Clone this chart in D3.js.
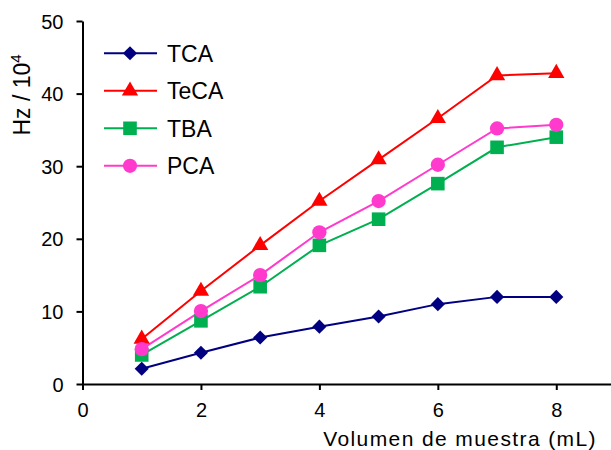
<!DOCTYPE html>
<html><head><meta charset="utf-8">
<script src="https://cdn.jsdelivr.net/npm/d3@7"></script>
<style>body{margin:0;background:#fff;} svg{display:block;font-family:"Liberation Sans",Arial,sans-serif;}</style>
</head><body>
<svg id="c" width="611" height="450"></svg>
<script>
const xValues = [1,2,3,4,5,6,7,8];
const seriesNames = ["TCA","TeCA","TBA","PCA"];
const TCA  = [2.1, 4.3, 6.4, 7.9, 9.3, 11.0, 12.0, 12.0];
const TeCA = [6.2, 12.8, 19.1, 25.2, 30.9, 36.6, 42.5, 42.8];
const TBA  = [4.0, 8.7, 13.4, 19.1, 22.7, 27.6, 32.6, 34.0];
const PCA  = [4.8, 10.05, 15.0, 20.9, 25.2, 30.2, 35.2, 35.7];
const xTicks = [0,2,4,6,8];
const yTicks = [0,10,20,30,40,50];
const colors = ["#000080","#FF0000","#00B050","#FF3ACC"];
const symbols = [d3.symbolSquare, d3.symbolTriangle, d3.symbolSquare, d3.symbolCircle];
const symRot = [45, 0, 0, 0];
const symSizes = [100, 115, 185, 160];
const seriesData = [TCA, TeCA, TBA, PCA];
const FONT = "Liberation Sans, Arial, sans-serif";

const svg = d3.select("#c");
const x = d3.scaleLinear().domain([0,9]).range([82.5,615.5]);
const y = d3.scaleLinear().domain([0,50]).range([384,21]);

// axes
const xAxis = svg.append("g").attr("transform","translate(0,384)")
  .call(d3.axisBottom(x).tickValues(xTicks).tickSize(6).tickSizeOuter(0).tickPadding(6));
const yAxis = svg.append("g").attr("transform","translate(82.5,0)")
  .call(d3.axisLeft(y).tickValues(yTicks).tickSize(6).tickSizeOuter(0).tickPadding(13));
[xAxis,yAxis].forEach(g=>{
  g.select(".domain").attr("stroke","#000").attr("stroke-width",2);
  g.selectAll(".tick line").attr("stroke","#000").attr("stroke-width",2);
  g.selectAll(".tick text").attr("fill","#000").style("font-size","20px").style("font-family",FONT);
});
xAxis.selectAll(".tick text").attr("dy","1.05em");
yAxis.selectAll(".tick text").attr("dy","0.35em");

// y label
const yl = svg.append("text").attr("transform","translate(30,95) rotate(-90)")
  .attr("text-anchor","middle").style("font-size","23px").attr("fill","#000");
yl.append("tspan").text("Hz / 10");
yl.append("tspan").text("4").attr("dy","-9").style("font-size","15px");

// x label
svg.append("text").attr("x",597).attr("y",446).attr("text-anchor","end")
  .style("font-size","21px").style("letter-spacing","1.4px").attr("fill","#000").text("Volumen de muestra (mL)");

// series
const line = d3.line().x((d,i)=>x(xValues[i])).y(d=>y(d));
seriesData.forEach((s,k)=>{
  svg.append("path").datum(s).attr("d",line).attr("fill","none")
    .attr("stroke",colors[k]).attr("stroke-width",2);
});
seriesData.forEach((s,k)=>{
  svg.append("g").selectAll("path").data(s).join("path")
    .attr("transform",(d,i)=>`translate(${x(xValues[i])},${y(d)}) rotate(${symRot[k]})`)
    .attr("d",d3.symbol().type(symbols[k]).size(symSizes[k]))
    .attr("fill",colors[k]);
});

// legend
const lg = svg.append("g");
seriesNames.forEach((n,k)=>{
  const yy = 53.3 + k*37.5;
  lg.append("line").attr("x1",104).attr("x2",157).attr("y1",yy).attr("y2",yy)
    .attr("stroke",colors[k]).attr("stroke-width",2);
  lg.append("path").attr("transform",`translate(130,${yy}) rotate(${symRot[k]})`)
    .attr("d",d3.symbol().type(symbols[k]).size(symSizes[k])).attr("fill",colors[k]);
  lg.append("text").attr("x",167).attr("y",yy).attr("dy","0.36em")
    .style("font-size","23px").attr("fill","#000").text(n);
});
</script>
</body></html>
